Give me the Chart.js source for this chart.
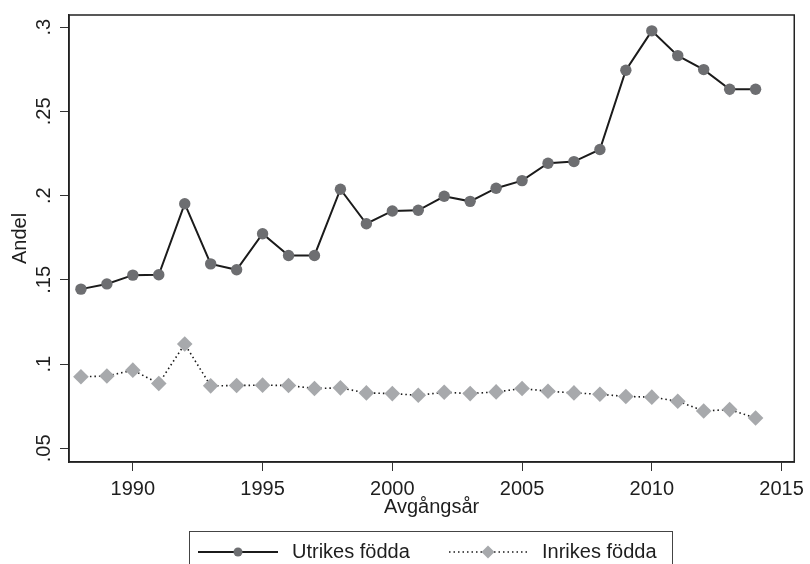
<!DOCTYPE html>
<html><head><meta charset="utf-8">
<script src="https://cdn.jsdelivr.net/npm/chart.js@4/dist/chart.umd.min.js"></script>
<style>html,body{margin:0;padding:0;background:#fff}#w{width:810px;height:564px;overflow:hidden}</style>
</head><body><div id="w"><canvas id="c" width="810" height="564"></canvas></div>
<script>
const years = [1988,1989,1990,1991,1992,1993,1994,1995,1996,1997,1998,1999,2000,2001,2002,2003,2004,2005,2006,2007,2008,2009,2010,2011,2012,2013,2014];
const utrikes = [0.1445,0.1476,0.1528,0.1530,0.1952,0.1595,0.1560,0.1774,0.1645,0.1645,0.2038,0.1833,0.1909,0.1913,0.1996,0.1966,0.2044,0.2089,0.2192,0.2202,0.2274,0.2744,0.2978,0.2831,0.2748,0.2631,0.2631];
const inrikes = [0.0925,0.0929,0.0964,0.0885,0.1119,0.0871,0.0873,0.0875,0.0873,0.0855,0.0859,0.0829,0.0825,0.0815,0.0833,0.0825,0.0835,0.0855,0.0839,0.0829,0.0821,0.0808,0.0804,0.0780,0.0722,0.0730,0.0680];
const seriesNames = ['Utrikes födda','Inrikes födda'];
const xTicks = [1990,1995,2000,2005,2010,2015];
const yTicks = [0.05,0.1,0.15,0.2,0.25,0.3];
const yTickLabels = ['.05','.1','.15','.2','.25','.3'];
const xTitle = 'Avgångsår';
const yTitle = 'Andel';

const FONT = 'Liberation Sans, Arial, sans-serif';
const INK = '#1e1e1e';

const framePlugin = {
  id:'frame',
  afterDraw(chart){
    const {ctx, chartArea:a, scales} = chart;
    ctx.save();
    ctx.strokeStyle = '#222'; ctx.lineWidth = 1.5;
    ctx.strokeRect(a.left, a.top, a.right-a.left, a.bottom-a.top);
    // rotated y tick labels
    ctx.fillStyle = INK; ctx.font = '20px ' + FONT;
    ctx.textAlign = 'center'; ctx.textBaseline = 'alphabetic';
    yTicks.forEach((v,i)=>{
      const y = scales.y.getPixelForValue(v);
      ctx.save(); ctx.translate(50, y); ctx.rotate(-Math.PI/2);
      ctx.fillText(yTickLabels[i], 0, 0); ctx.restore();
    });
    // legend
    const ds = chart.data.datasets;
    const ly = 552;
    ctx.lineWidth = 1; ctx.strokeStyle = '#444';
    ctx.strokeRect(189.5, 531.5, 483, 40);
    ctx.textAlign = 'left'; ctx.textBaseline = 'middle';
    // item 1
    ctx.strokeStyle = ds[0].borderColor; ctx.lineWidth = ds[0].borderWidth; ctx.setLineDash([]);
    ctx.beginPath(); ctx.moveTo(198, ly); ctx.lineTo(278, ly); ctx.stroke();
    ctx.fillStyle = ds[0].pointBackgroundColor;
    ctx.beginPath(); ctx.arc(238, ly, 4.5, 0, Math.PI*2); ctx.fill();
    ctx.fillStyle = INK; ctx.fillText(ds[0].label, 292, ly);
    // item 2
    ctx.strokeStyle = ds[1].borderColor; ctx.lineWidth = ds[1].borderWidth; ctx.setLineDash(ds[1].borderDash);
    ctx.beginPath(); ctx.moveTo(449, ly); ctx.lineTo(528, ly); ctx.stroke();
    ctx.setLineDash([]);
    ctx.fillStyle = ds[1].pointBackgroundColor;
    const r = 6.5;
    ctx.beginPath(); ctx.moveTo(488, ly-r); ctx.lineTo(488+r, ly); ctx.lineTo(488, ly+r); ctx.lineTo(488-r, ly); ctx.closePath(); ctx.fill();
    ctx.fillStyle = INK; ctx.fillText(ds[1].label, 542, ly);
    ctx.restore();
  }
};

new Chart(document.getElementById('c'), {
  type:'line',
  data:{datasets:[
    {label:seriesNames[0], data:years.map((y,i)=>({x:y,y:utrikes[i]})), borderColor:'#1b1b1b', borderWidth:2,
     pointStyle:'circle', pointRadius:5.7, pointBackgroundColor:'#6d6e71', pointBorderWidth:0, pointBorderColor:'#6d6e71', tension:0, fill:false},
    {label:seriesNames[1], data:years.map((y,i)=>({x:y,y:inrikes[i]})), borderColor:'#1b1b1b', borderWidth:1.6, borderDash:[1.5,3],
     pointStyle:'rectRot', pointRadius:7.8, pointBackgroundColor:'#a7a9ac', pointBorderWidth:0, pointBorderColor:'#a7a9ac', tension:0, fill:false}
  ]},
  options:{
    responsive:false, animation:false, devicePixelRatio:1,
    layout:{padding:{left:0, top:15, right:12, bottom:0}},
    plugins:{legend:{display:false}, tooltip:{enabled:false}},
    scales:{
      x:{type:'linear', min:1987.54, max:2015.49,
        afterBuildTicks:s=>{s.ticks = xTicks.map(v=>({value:v}));},
        afterFit:s=>{s.height = 102;},
        grid:{drawOnChartArea:false, drawTicks:true, tickLength:9, tickColor:'#333', tickWidth:1},
        border:{display:true, color:'#222', width:1.5},
        ticks:{color:INK, font:{family:FONT, size:20}, padding:6, maxRotation:0, minRotation:0, autoSkip:false, callback:v=>String(v)},
        title:{display:true, text:xTitle, color:INK, font:{family:FONT, size:20}, padding:{top:0, bottom:45}}
      },
      y:{type:'linear', min:0.0419, max:0.3072,
        afterBuildTicks:s=>{s.ticks = yTicks.map(v=>({value:v}));},
        afterFit:s=>{s.width = 69;},
        grid:{drawOnChartArea:false, drawTicks:true, tickLength:9, tickColor:'#333', tickWidth:1},
        border:{display:true, color:'#222', width:1.5},
        ticks:{color:'rgba(0,0,0,0)', font:{family:FONT, size:20}, autoSkip:false},
        title:{display:true, text:yTitle, color:INK, font:{family:FONT, size:20}, padding:{top:8.5, bottom:0}}
      }
    }
  },
  plugins:[framePlugin]
});
</script></body></html>
